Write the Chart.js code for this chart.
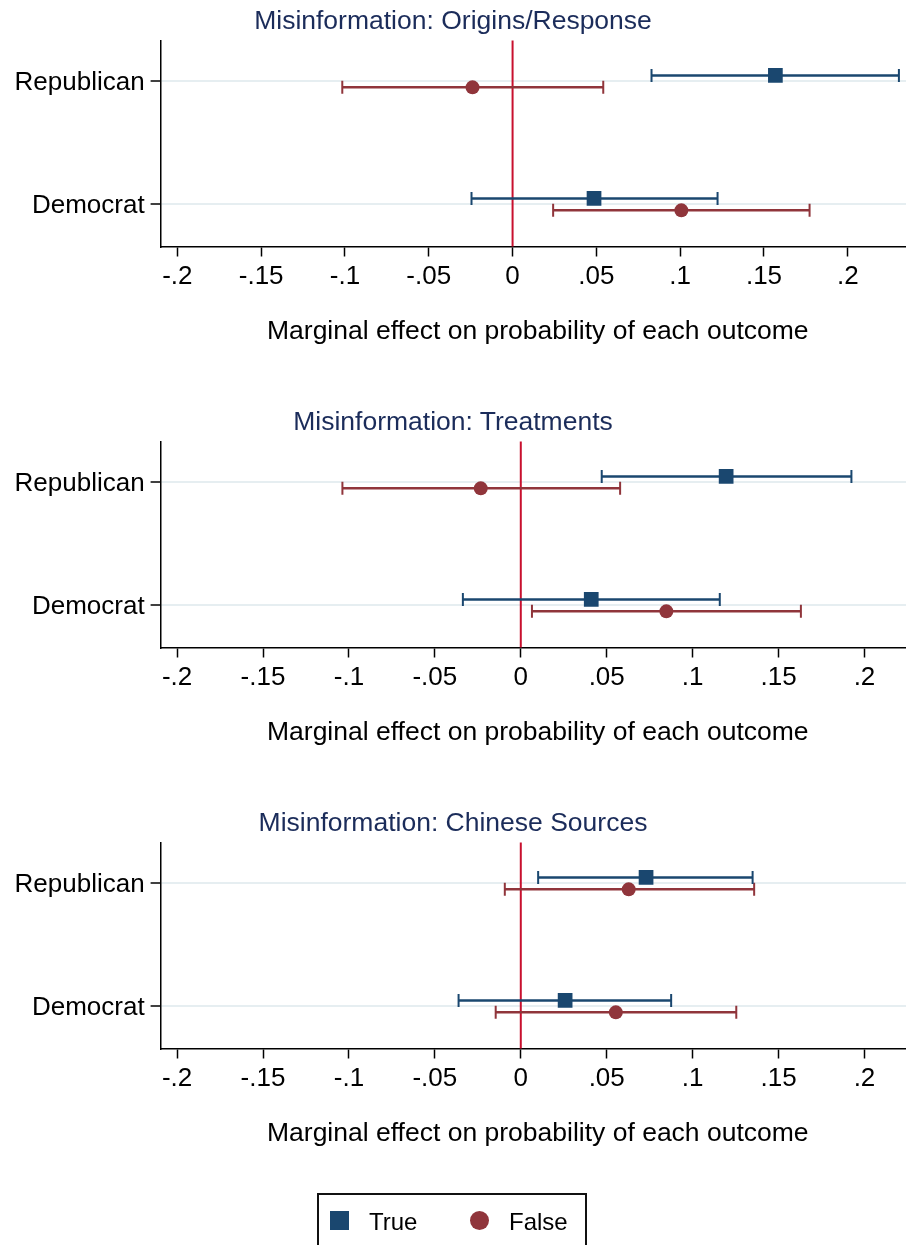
<!DOCTYPE html>
<html>
<head>
<meta charset="utf-8">
<script src="https://cdn.jsdelivr.net/npm/chart.js@4"></script>
<style>
  html, body { margin:0; padding:0; background:#fff; }
  #wrap { position:relative; width:906px; height:1245px; overflow:hidden; background:#fff;
          font-family:'Liberation Sans', Arial, Helvetica, sans-serif; }
  .panel { position:absolute; left:0; width:916px; height:401px; overflow:hidden; }
  .panel canvas { position:absolute; left:0; top:0; }
  .ptitle { position:absolute; left:0; top:5px; width:906px; text-align:center;
            font-size:26.5px; line-height:30px; color:#1b2c5a; z-index:2; }
  #legend { position:absolute; left:317px; top:1193px; width:266px; height:70px;
            border:2px solid #111; box-sizing:content-box; }
  #legend .mk { position:absolute; top:16px; width:19px; height:19px; }
  #legend .lt { position:absolute; top:15px; font-size:24px; line-height:24px; color:#000; }
</style>
</head>
<body>
<div id="wrap">
  <div class="panel" style="top:0px"><div class="ptitle" id="t0"></div><canvas id="c0" width="916" height="401" style="width:916px;height:401px"></canvas></div>
  <div class="panel" style="top:401px"><div class="ptitle" id="t1"></div><canvas id="c1" width="916" height="401" style="width:916px;height:401px"></canvas></div>
  <div class="panel" style="top:802px"><div class="ptitle" id="t2"></div><canvas id="c2" width="916" height="401" style="width:916px;height:401px"></canvas></div>
  <div id="legend">
    <div class="mk" id="lm0" style="left:11px"></div><div class="lt" id="ll0" style="left:50px"></div>
    <div class="mk" id="lm1" style="left:151px;border-radius:50%"></div><div class="lt" id="ll1" style="left:190px"></div>
  </div>
</div>
<script>
// ---------- data ----------
const categories = ['Republican', 'Democrat'];
const seriesNames = ['True', 'False'];
const panelTitles = ['Misinformation: Origins/Response', 'Misinformation: Treatments', 'Misinformation: Chinese Sources'];
const xAxisTitle = 'Marginal effect on probability of each outcome';
const xTickValues = [-0.2, -0.15, -0.1, -0.05, 0, 0.05, 0.1, 0.15, 0.2];
const xTickLabels = ['-.2', '-.15', '-.1', '-.05', '0', '.05', '.1', '.15', '.2'];

// Origins/Response  (order: Republican, Democrat)
const originsTrueEst   = [0.1568, 0.0486];
const originsTrueLow   = [0.0829, -0.0245];
const originsTrueHigh  = [0.2305, 0.1223];
const originsFalseEst  = [-0.0239, 0.1007];
const originsFalseLow  = [-0.1016, 0.0242];
const originsFalseHigh = [0.0541, 0.1772];

// Treatments
const treatTrueEst   = [0.1195, 0.0410];
const treatTrueLow   = [0.0471, -0.0337];
const treatTrueHigh  = [0.1924, 0.1158];
const treatFalseEst  = [-0.0233, 0.0847];
const treatFalseLow  = [-0.1038, 0.0065];
const treatFalseHigh = [0.0578, 0.1630];

// Chinese Sources
const chinaTrueEst   = [0.0729, 0.0258];
const chinaTrueLow   = [0.0101, -0.0362];
const chinaTrueHigh  = [0.1349, 0.0875];
const chinaFalseEst  = [0.0628, 0.0553];
const chinaFalseLow  = [-0.0093, -0.0146];
const chinaFalseHigh = [0.1358, 0.1254];

// ---------- styles ----------
const BLUE = '#1a476f';
const RED = '#90353b';
const ZERO = '#c8102e';
const GRID = '#e6eef1';
const FONT = "'Liberation Sans', Arial, Helvetica, sans-serif";

const panels = [
  { tE: originsTrueEst, tL: originsTrueLow, tH: originsTrueHigh, fE: originsFalseEst, fL: originsFalseLow, fH: originsFalseHigh, xMin: -0.2100, xMax: 0.2401 },
  { tE: treatTrueEst, tL: treatTrueLow, tH: treatTrueHigh, fE: treatFalseEst, fL: treatFalseLow, fH: treatFalseHigh, xMin: -0.2096, xMax: 0.2294 },
  { tE: chinaTrueEst, tL: chinaTrueLow, tH: chinaTrueHigh, fE: chinaFalseEst, fL: chinaFalseLow, fH: chinaFalseHigh, xMin: -0.2096, xMax: 0.2294 }
];

const zeroLine = {
  id: 'zeroLine',
  beforeDatasetsDraw(chart) {
    const { ctx, chartArea: a, scales: { x } } = chart;
    const px = x.getPixelForValue(0);
    ctx.save();
    ctx.strokeStyle = ZERO;
    ctx.lineWidth = 2;
    ctx.beginPath();
    ctx.moveTo(px, a.top);
    ctx.lineTo(px, a.bottom);
    ctx.stroke();
    ctx.restore();
  }
};

function makeChart(idx) {
  const p = panels[idx];
  document.getElementById('t' + idx).textContent = panelTitles[idx];
  const ys = categories.map((c, i) => categories.length - i);
  const series = [
    { name: seriesNames[0], est: p.tE, lo: p.tL, hi: p.tH, color: BLUE, off: 0.046, style: 'rect', r: 10.4 },
    { name: seriesNames[1], est: p.fE, lo: p.fL, hi: p.fH, color: RED, off: -0.051, style: 'circle', r: 7 }
  ];
  const datasets = [];
  series.forEach(s => datasets.push({
    label: s.name,
    data: s.est.map((v, i) => ({ x: v, y: ys[i] + s.off })),
    pointStyle: s.style, pointRadius: s.r, pointHoverRadius: s.r,
    backgroundColor: s.color, borderColor: s.color, pointBorderWidth: 0, showLine: false
  }));
  series.forEach(s => s.est.forEach((v, i) => datasets.push({
    label: s.name + ' CI',
    data: [{ x: s.lo[i], y: ys[i] + s.off }, { x: s.hi[i], y: ys[i] + s.off }],
    showLine: true, borderColor: s.color, borderWidth: 2.5,
    pointStyle: 'line', pointRotation: 90, pointRadius: 6.5, pointHoverRadius: 6.5,
    pointBorderWidth: 2, pointBorderColor: s.color, pointBackgroundColor: s.color
  })));

  new Chart(document.getElementById('c' + idx), {
    type: 'scatter',
    data: { datasets },
    plugins: [zeroLine],
    options: {
      responsive: false, animation: false, devicePixelRatio: 1,
      layout: { autoPadding: false, padding: { top: 40.5, left: 0, right: 1, bottom: 0 } },
      plugins: { legend: { display: false }, tooltip: { enabled: false }, title: { display: false } },
      scales: {
        x: {
          type: 'linear', min: p.xMin, max: p.xMax,
          afterBuildTicks: s => { s.ticks = xTickValues.map(v => ({ value: v })); },
          afterFit: s => { s.height = 154.5; s.paddingLeft = 0; s.paddingRight = 0; },
          grid: { drawOnChartArea: false, tickLength: 10, tickColor: '#000', tickWidth: 1.5 },
          border: { color: '#000', width: 1.5 },
          ticks: {
            autoSkip: false, maxRotation: 0, padding: 5, color: '#000',
            font: { family: FONT, size: 26 },
            callback: v => { const k = xTickValues.findIndex(t => Math.abs(t - v) < 1e-9); return k >= 0 ? xTickLabels[k] : ''; }
          },
          title: { display: true, text: xAxisTitle, color: '#000', font: { family: FONT, size: 26.5 }, padding: { top: 0, bottom: 53 } }
        },
        y: {
          type: 'linear', min: 0.655, max: 2.33,
          afterBuildTicks: s => { s.ticks = ys.map(v => ({ value: v })); },
          afterFit: s => { s.width = 160.6; s.paddingTop = 0; s.paddingBottom = 0; },
          grid: { color: GRID, lineWidth: 2, tickColor: '#000', tickWidth: 1.5, tickLength: 10 },
          border: { color: '#000', width: 1.5 },
          ticks: {
            autoSkip: false, padding: 6, color: '#000', labelOffset: 2,
            font: { family: FONT, size: 26 },
            callback: v => categories[categories.length - Math.round(v)]
          }
        }
      }
    }
  });
}

[0, 1, 2].forEach(makeChart);

// legend
document.getElementById('lm0').style.background = BLUE;
document.getElementById('lm1').style.background = RED;
document.getElementById('ll0').textContent = seriesNames[0];
document.getElementById('ll1').textContent = seriesNames[1];
</script>
</body>
</html>
